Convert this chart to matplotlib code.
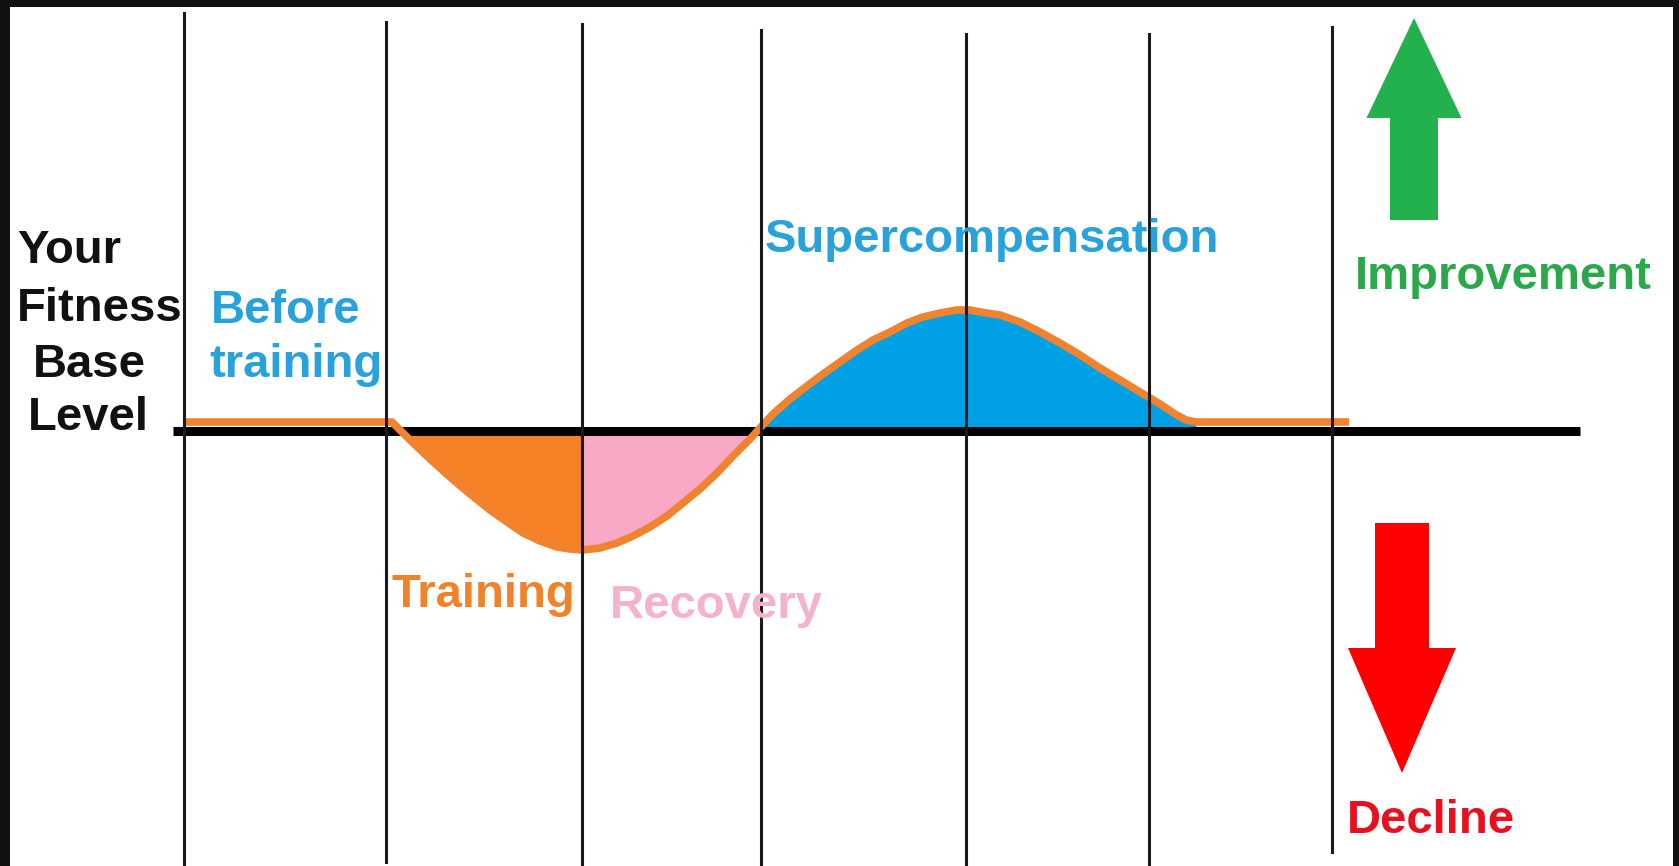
import numpy as np
import matplotlib.pyplot as plt

plt.rcParams['font.family'] = ['Liberation Sans', 'DejaVu Sans']

# time axis of the sketch (arbitrary units), fitness relative to base level (0)
phase_lines = [184, 386, 582, 761, 966, 1149, 1332]
line_tops = [418, 409, 407, 401, 397, 397, 404]
line_bottoms = [-435, -431, -435, -435, -435, -435, -421]

curve_x = [184, 392, 410, 430, 450, 470, 490, 507, 523, 540, 557, 570, 583,
           600, 617, 633, 650, 667, 683, 700, 717, 733, 750, 760, 773, 790,
           807, 823, 840, 857, 873, 890, 907, 923, 940, 957, 970, 980, 1000,
           1020, 1040, 1060, 1080, 1100, 1120, 1140, 1160, 1175, 1186, 1196, 1349]
curve_y = [9, 9, -9, -28, -46, -63, -79, -91, -102, -110, -116, -118, -119,
           -117, -112, -105, -96, -85, -72, -58, -42, -25, -8, 3, 17, 32,
           45, 57, 69, 81, 91, 99, 108, 114, 118, 121, 121, 119, 116,
           109, 99, 88, 76, 63, 51, 39, 27, 17, 11, 9, 9]

base_start, base_end = 173, 1580
training_end = 583
recovery_end = 760
super_start, super_end = 750, 1196

cx = np.array(curve_x, dtype=float)
cy = np.array(curve_y, dtype=float)

fig = plt.figure(figsize=(16.79, 8.66), dpi=100, facecolor='#111111')
ax = fig.add_axes([10 / 1679, 0, 1663 / 1679, 859 / 866])
ax.set_facecolor('white')
ax.set_xlim(10, 1673)
ax.set_ylim(-435, 424)
ax.set_xticks([])
ax.set_yticks([])
for s in ax.spines.values():
    s.set_visible(False)

# coloured areas
below = np.minimum(cy, 0)
above = np.maximum(cy, 0)
ax.fill_between(cx, below, 0, where=cx <= training_end, color='#F58025', lw=0, zorder=1)
ax.fill_between(cx, below, 0, where=(cx >= training_end) & (cx <= recovery_end),
                color='#F9A8C6', lw=0, zorder=1)
ax.fill_between(cx, above, 0, where=(cx >= super_start) & (cx <= super_end),
                color='#00A1E4', lw=0, zorder=1)

# base level line
ax.plot([base_start, base_end], [0, 0], color='black', lw=6.5,
        solid_capstyle='butt', zorder=2)

# fitness curve
ax.plot(cx, cy, color='#F0832F', lw=5.5, solid_joinstyle='round',
        solid_capstyle='butt', zorder=3)

# phase separators
for x, top, bot in zip(phase_lines, line_tops, line_bottoms):
    ax.plot([x, x], [bot, top], color='#1a1a1a', lw=2.2, zorder=4)

# arrows
ax.arrow(1414, 211, 0, 202, width=48, head_width=95, head_length=100,
         length_includes_head=True, fc='#22B14C', ec='none', zorder=5)
ax.arrow(1402, -92, 0, -250, width=54, head_width=108, head_length=125,
         length_includes_head=True, fc='#FF0000', ec='none', zorder=5)

fs = 34
kw = dict(fontsize=fs, fontweight='bold', va='baseline', ha='left', zorder=6)
ax.text(17, 431 - 263, 'Your', color='#111111', **kw)
ax.text(17, 431 - 321, 'Fitness', color='#111111', **kw)
ax.text(33, 431 - 377, 'Base', color='#111111', **kw)
ax.text(28, 431 - 430, 'Level', color='#111111', **kw)

ax.text(211, 431 - 323, 'Before', color='#29A2DB', **kw)
ax.text(209, 431 - 377, 'training', color='#29A2DB', **kw)
ax.text(765, 431 - 252, 'Supercompensation', color='#29A2DB', **kw)
ax.text(1355, 431 - 289, 'Improvement', color='#2BA84A', **kw)
ax.text(391, 431 - 607, 'Training', color='#F08229', **kw)
ax.text(610, 431 - 618, 'Recovery', color='#F5B2CC', **kw)
ax.text(1347, 431 - 833, 'Decline', color='#E8101E', **kw)

fig.savefig('out.png', dpi=100, facecolor=fig.get_facecolor())
